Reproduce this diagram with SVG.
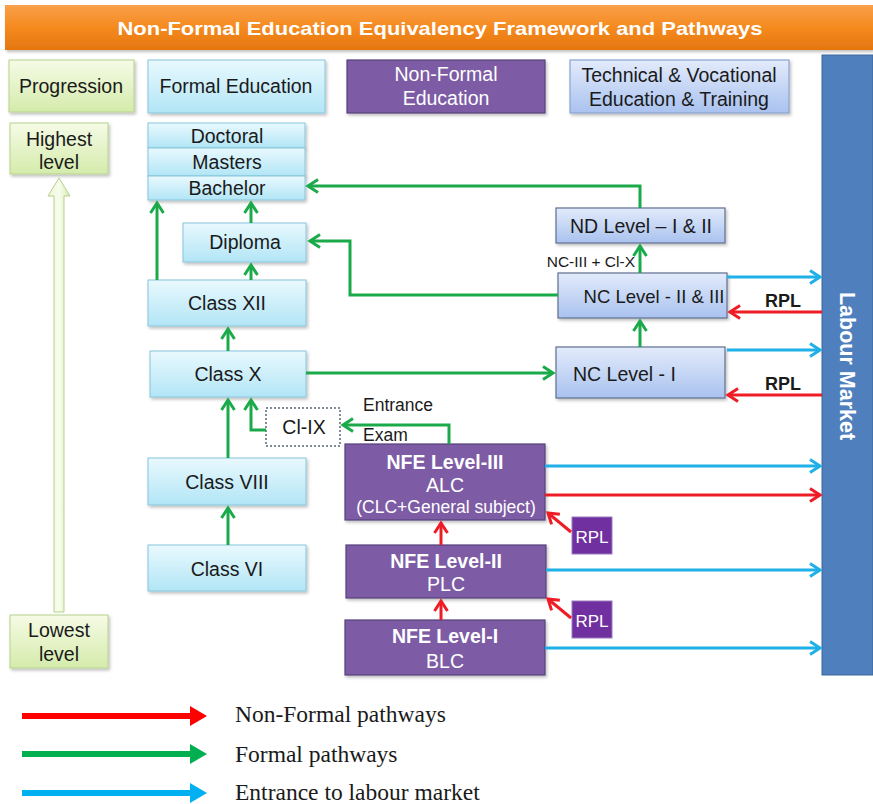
<svg xmlns="http://www.w3.org/2000/svg" width="873" height="804" viewBox="0 0 873 804">
<defs>
<linearGradient id="gTitle" x1="0" y1="0" x2="0" y2="1"><stop offset="0" stop-color="#f9a04a"/><stop offset="0.5" stop-color="#f58a1f"/><stop offset="1" stop-color="#e4760f"/></linearGradient>
<linearGradient id="gFormal" x1="0" y1="0" x2="0" y2="1"><stop offset="0" stop-color="#e9f9fe"/><stop offset="1" stop-color="#b2e5f6"/></linearGradient>
<linearGradient id="gTvet" x1="0" y1="0" x2="0" y2="1"><stop offset="0" stop-color="#e3ebfb"/><stop offset="1" stop-color="#a9c2ef"/></linearGradient>
<linearGradient id="gProg" x1="0" y1="0" x2="0" y2="1"><stop offset="0" stop-color="#f6fbe6"/><stop offset="1" stop-color="#d4ebab"/></linearGradient>
<linearGradient id="gArrow" x1="0" y1="0" x2="1" y2="0"><stop offset="0" stop-color="#eef8d8"/><stop offset="0.5" stop-color="#f8fcee"/><stop offset="1" stop-color="#d6ecb4"/></linearGradient>
<filter id="sh" x="-10%" y="-10%" width="130%" height="140%"><feDropShadow dx="1.5" dy="2" stdDeviation="1.5" flood-color="#000" flood-opacity="0.25"/></filter>
<marker id="mG" markerUnits="userSpaceOnUse" markerWidth="16" markerHeight="16" refX="12" refY="8" orient="auto"><path d="M2,1.5 L12,8 L2,14.5" fill="none" stroke="#1aaa4a" stroke-width="3"/></marker>
<marker id="mB" markerUnits="userSpaceOnUse" markerWidth="16" markerHeight="16" refX="12" refY="8" orient="auto"><path d="M2,1.5 L12,8 L2,14.5" fill="none" stroke="#1eb0e6" stroke-width="3"/></marker>
<marker id="mR" markerUnits="userSpaceOnUse" markerWidth="16" markerHeight="16" refX="12" refY="8" orient="auto"><path d="M2,1.5 L12,8 L2,14.5" fill="none" stroke="#ee1c25" stroke-width="3"/></marker>
<style>
text{font-family:"Liberation Sans",Arial,sans-serif;}
.lbl{font-size:19.5px;fill:#1a1a1a;text-anchor:middle;}
.wl{font-size:19.5px;fill:#ffffff;text-anchor:middle;}
.wb{font-size:19.5px;fill:#ffffff;text-anchor:middle;font-weight:bold;}
.formal{fill:url(#gFormal);stroke:#86c6db;stroke-width:1;filter:url(#sh);}
.tvet{fill:url(#gTvet);stroke:#5f6f8e;stroke-width:1.2;filter:url(#sh);}
.prog{fill:url(#gProg);stroke:#b7d28c;stroke-width:1;filter:url(#sh);}
.nfe{fill:#7d5ca5;stroke:#56407a;stroke-width:1.2;filter:url(#sh);}
.rpl{fill:#7030a0;stroke:#9a7cc0;stroke-width:1;}
.g{fill:none;stroke:#1aaa4a;stroke-width:3;marker-end:url(#mG);}
.b{fill:none;stroke:#1eb0e6;stroke-width:3;marker-end:url(#mB);}
.r{fill:none;stroke:#ee1c25;stroke-width:3;marker-end:url(#mR);}
.leg{font-family:"Liberation Serif","Times New Roman",serif;font-size:23.5px;fill:#1a1a1a;}
</style>
</defs>
<rect width="873" height="804" fill="#ffffff"/>

<g id="title">
<rect x="5" y="5" width="868" height="45" fill="url(#gTitle)" filter="url(#sh)"/>
<text x="440" y="35" font-size="19" font-weight="bold" fill="#ffffff" text-anchor="middle" textLength="645" lengthAdjust="spacingAndGlyphs">Non-Formal Education Equivalency Framework and Pathways</text>
</g>

<g id="hdr-progression"><rect class="prog" x="9" y="60" width="125" height="52"/><text class="lbl" x="71" y="93">Progression</text></g>
<g id="hdr-formal"><rect class="formal" x="148" y="60" width="177" height="53"/><text class="lbl" x="236" y="93">Formal Education</text></g>
<g id="hdr-nfe"><rect class="nfe" x="347" y="60" width="198" height="53"/><text class="wl" x="446" y="81">Non-Formal</text><text class="wl" x="446" y="105">Education</text></g>
<g id="hdr-tvet"><rect class="tvet" x="570" y="60" width="219" height="53" style="stroke:#8aa3cf"/><text class="lbl" x="679" y="82">Technical &amp; Vocational</text><text class="lbl" x="679" y="106">Education &amp; Training</text></g>

<g id="labour-market">
<rect x="822" y="55" width="51" height="620" fill="#4f7fbd" stroke="#3d6799" stroke-width="1"/>
<text transform="translate(840,366) rotate(90)" font-size="21.5" font-weight="bold" fill="#ffffff" text-anchor="middle">Labour Market</text>
</g>

<g id="highest"><rect class="prog" x="10" y="123" width="98" height="51"/><text class="lbl" x="59" y="146">Highest</text><text class="lbl" x="59" y="169">level</text></g>
<g id="progress-arrow"><path d="M54,612 L54,196 L48,196 L59,178 L70,196 L64,196 L64,612 Z" fill="url(#gArrow)" stroke="#b5cf88" stroke-width="1"/></g>
<g id="lowest"><rect class="prog" x="10" y="615" width="98" height="53"/><text class="lbl" x="59" y="637">Lowest</text><text class="lbl" x="59" y="661">level</text></g>

<g id="doctoral"><rect class="formal" x="148" y="123" width="157" height="25"/><text class="lbl" x="227" y="143">Doctoral</text></g>
<g id="masters"><rect class="formal" x="148" y="148" width="157" height="28"/><text class="lbl" x="227" y="169">Masters</text></g>
<g id="bachelor"><rect class="formal" x="148" y="176" width="157" height="24"/><text class="lbl" x="227" y="195">Bachelor</text></g>
<g id="diploma"><rect class="formal" x="183" y="223" width="123" height="39"/><text class="lbl" x="245" y="249">Diploma</text></g>
<g id="class12"><rect class="formal" x="148" y="280" width="158" height="46"/><text class="lbl" x="227" y="310">Class XII</text></g>
<g id="class10"><rect class="formal" x="150" y="351" width="156" height="46"/><text class="lbl" x="228" y="381">Class X</text></g>
<g id="class8"><rect class="formal" x="148" y="458" width="158" height="47"/><text class="lbl" x="227" y="489">Class VIII</text></g>
<g id="class6"><rect class="formal" x="148" y="545" width="158" height="46"/><text class="lbl" x="227" y="576">Class VI</text></g>
<g id="cl9"><rect x="266" y="408" width="74" height="38" fill="#ffffff" stroke="#5a6878" stroke-width="1.5" stroke-dasharray="2,2"/><text class="lbl" x="304" y="434">Cl-IX</text></g>

<g id="nd"><rect class="tvet" x="556" y="208" width="169" height="35"/><text class="lbl" x="641" y="233">ND Level – I &amp; II</text></g>
<g id="nc23"><rect class="tvet" x="558" y="273" width="169" height="45"/><text class="lbl" x="654" y="303" style="font-size:18.5px">NC Level - II &amp; III</text></g>
<g id="nc1"><rect class="tvet" x="556" y="347" width="169" height="51"/><text class="lbl" x="573" y="381" style="text-anchor:start">NC Level - I</text></g>

<g id="nfe3"><rect class="nfe" x="345" y="444" width="200" height="76"/><text class="wb" x="445" y="469">NFE Level-III</text><text class="wl" x="445" y="492">ALC</text><text class="wl" x="446" y="513" style="font-size:17.5px">(CLC+General subject)</text></g>
<g id="nfe2"><rect class="nfe" x="346" y="545" width="200" height="53"/><text class="wb" x="446" y="568">NFE Level-II</text><text class="wl" x="446" y="591">PLC</text></g>
<g id="nfe1"><rect class="nfe" x="345" y="620" width="200" height="55"/><text class="wb" x="445" y="643">NFE Level-I</text><text class="wl" x="445" y="668">BLC</text></g>
<g id="rpl1"><rect class="rpl" x="572" y="517" width="40" height="37"/><text class="wl" x="592" y="543" style="font-size:17px">RPL</text></g>
<g id="rpl2"><rect class="rpl" x="572" y="601" width="40" height="37"/><text class="wl" x="592" y="627" style="font-size:17px">RPL</text></g>

<g id="connectors">
<path class="g" d="M157,280 L157,203"/>
<path class="g" d="M251,223 L251,203"/>
<path class="g" d="M251,280 L251,265"/>
<path class="g" d="M228,351 L228,329"/>
<path class="g" d="M228,458 L228,400"/>
<path class="g" d="M266,430 L251,430 L251,400"/>
<path class="g" d="M228,545 L228,508"/>
<path class="g" d="M306,373 L553,373"/>
<path class="g" d="M449,444 L449,425 L343,425"/>
<path class="g" d="M640,208 L640,186 L308,186"/>
<path class="g" d="M558,295 L350,295 L350,241 L310,241"/>
<path class="g" d="M640,273 L640,246"/>
<path class="g" d="M640,347 L640,321"/>
<path class="b" d="M727,277 L820,277"/>
<path class="b" d="M727,350 L820,350"/>
<path class="r" d="M822,312 L730,312"/>
<path class="r" d="M822,395 L728,395"/>
<path class="b" d="M545,466 L820,466"/>
<path class="r" d="M545,495 L820,495"/>
<path class="b" d="M546,570 L820,570"/>
<path class="b" d="M545,648 L820,648"/>
<path class="r" d="M441,545 L441,523"/>
<path class="r" d="M441,620 L441,601"/>
<path class="r" d="M571,532 L548,513"/>
<path class="r" d="M571,618 L548,599"/>
<text x="635" y="267" font-size="15.5" fill="#1a1a1a" text-anchor="end">NC-III + Cl-X</text>
<text x="363" y="411" font-size="17.5" fill="#1a1a1a">Entrance</text>
<text x="363" y="441" font-size="17.5" fill="#1a1a1a">Exam</text>
<text x="783" y="307" font-size="18" font-weight="bold" fill="#1a1a1a" text-anchor="middle">RPL</text>
<text x="783" y="390" font-size="18" font-weight="bold" fill="#1a1a1a" text-anchor="middle">RPL</text>
</g>

<g id="legend">
<path d="M22,716 L190,716" stroke="#ff0000" stroke-width="6"/><path d="M190,706 L207,716 L190,726 Z" fill="#ff0000"/>
<text class="leg" x="235" y="722">Non-Formal pathways</text>
<path d="M22,754 L190,754" stroke="#00b050" stroke-width="6"/><path d="M190,744 L207,754 L190,764 Z" fill="#00b050"/>
<text class="leg" x="235" y="762">Formal pathways</text>
<path d="M22,793 L190,793" stroke="#00b0f0" stroke-width="6"/><path d="M190,783 L207,793 L190,803 Z" fill="#00b0f0"/>
<text class="leg" x="235" y="800">Entrance to labour market</text>
</g>
</svg>
